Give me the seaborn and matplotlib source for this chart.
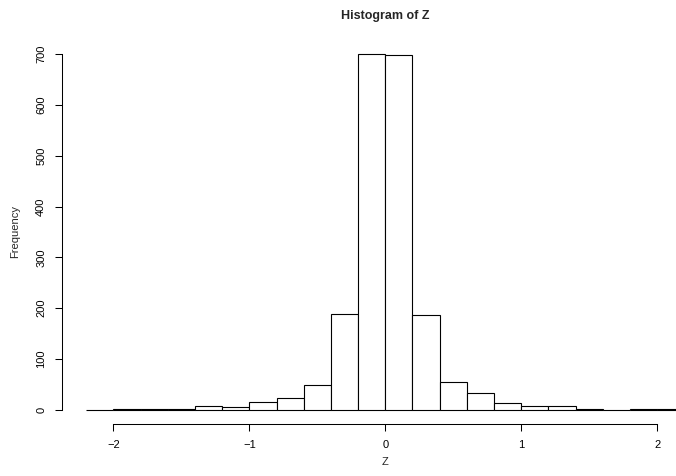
import numpy as np
import pandas as pd
import seaborn as sns
import matplotlib.pyplot as plt

# Bin midpoints and counts (bin width 0.2)
mids = [-2.1, -1.9, -1.7, -1.5, -1.3, -1.1, -0.9, -0.7, -0.5, -0.3, -0.1,
        0.1, 0.3, 0.5, 0.7, 0.9, 1.1, 1.3, 1.5, 1.7, 1.9, 2.1]
counts = [0, 1, 1, 1, 7, 5, 15, 23, 49, 188, 700,
          698, 186, 55, 33, 14, 7, 7, 1, 0, 1, 1]
x_ticks = [-2, -1, 0, 1, 2]
y_ticks = [0, 100, 200, 300, 400, 500, 600, 700]

df = pd.DataFrame({"Z": mids, "n": counts})

sns.set_style("white")
plt.rcParams["font.family"] = ["Liberation Sans", "DejaVu Sans"]

fig = plt.figure(figsize = (6.76, 4.76), dpi = 100)
ax = fig.add_axes([0.092, 0.1088, 0.9559, 0.8078])

sns.histplot(data = df, x = "Z", weights = "n", binwidth = 0.2, binrange = (-2.2, 2.2),
             color = "white", edgecolor = "black", linewidth = 0.8, alpha = 1, ax = ax)

ax.set_xlim(-2.376, 2.376)
ax.set_ylim(-28, 728)

ax.spines["top"].set_visible(False)
ax.spines["right"].set_visible(False)
ax.spines["left"].set_bounds(0, 700)
ax.spines["bottom"].set_bounds(-2, 2)
for s in ["left", "bottom"]:
    ax.spines[s].set_color("black")
    ax.spines[s].set_linewidth(0.75)

ax.set_xticks(x_ticks)
ax.set_xticklabels(["\u22122", "\u22121", "0", "1", "2"])
ax.set_yticks(y_ticks)
ax.set_yticklabels([str(v) for v in y_ticks], rotation = 90, va = "center")
ax.tick_params(axis = "both", direction = "out", length = 5, width = 0.75,
               labelsize = 8, colors = "black", left = True, bottom = True, pad = 6.5)

ax.set_xlabel("Z", fontsize = 8)
ax.set_ylabel("Frequency", fontsize = 8)
ax.xaxis.set_label_coords(0.5, -0.098)
ax.yaxis.set_label_coords(-0.073, 0.5)
ax.xaxis.label.set_va("center")
ax.yaxis.label.set_va("center")
ax.set_title("Histogram of Z", fontsize = 9, fontweight = "bold", pad = 15)

fig.savefig("out.png", dpi = 100)
